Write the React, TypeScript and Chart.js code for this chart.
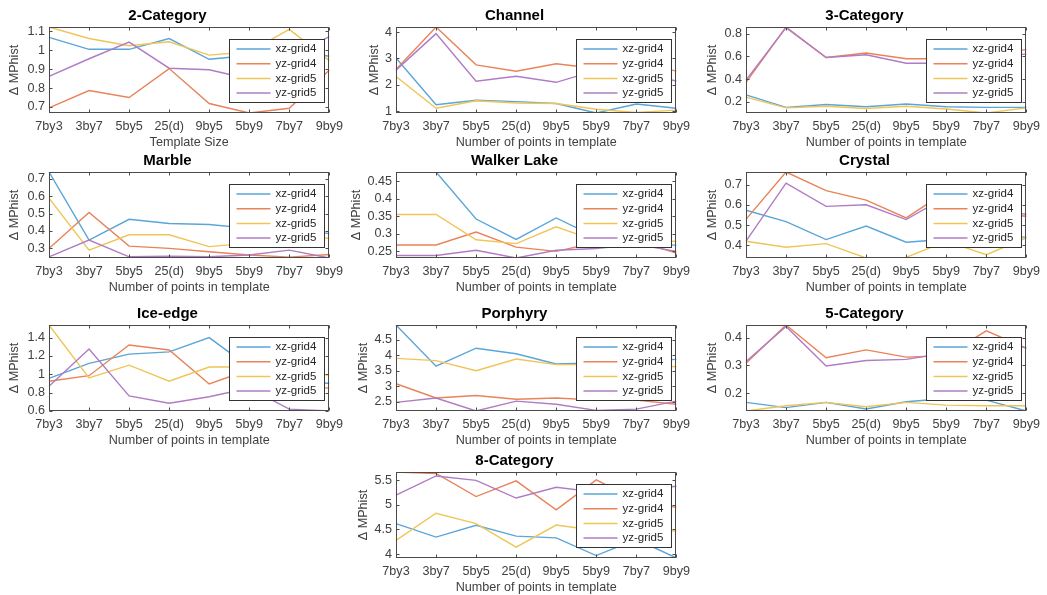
import React, { useEffect, useRef } from "react";
import { Chart, registerables } from "chart.js";

Chart.register(...registerables);

const FONT = "'Liberation Sans', Arial, Helvetica, sans-serif";
const AXIS_COLOR = "#4a4a4a";
const TEXT_COLOR = "#404040";
const AXIS_FONT_SIZE = 12.6;

// Template sizes along every x axis
const templates = ["7by3", "3by7", "5by5", "25(d)", "9by5", "5by9", "7by7", "9by9"];
const seriesNames = ["xz-grid4", "yz-grid4", "xz-grid5", "yz-grid5"];
const seriesColors = ["#5AA5DA", "#E8835A", "#F0C558", "#B07CC4"];

// 2-Category
const twoCatXz4 = [1.068, 1.005, 1.005, 1.062, 0.952, 0.972, 1.0, 0.968];
const twoCatYz4 = [0.695, 0.787, 0.75, 0.903, 0.718, 0.668, 0.693, 0.895];
const twoCatXz5 = [1.123, 1.062, 1.024, 1.045, 0.974, 0.992, 1.11, 0.945];
const twoCatYz5 = [0.862, 0.955, 1.043, 0.905, 0.897, 0.848, 0.965, 1.072];
const twoCatTicks = [0.7, 0.8, 0.9, 1, 1.1];

// Channel
const channelXz4 = [3.02, 1.25, 1.42, 1.37, 1.3, 0.94, 1.28, 1.12];
const channelYz4 = [2.58, 4.19, 2.76, 2.52, 2.8, 2.62, 2.9, 2.52];
const channelXz5 = [2.32, 1.12, 1.4, 1.32, 1.3, 1.08, 0.96, 1.05];
const channelYz5 = [2.56, 3.94, 2.14, 2.33, 2.1, 2.55, 2.48, 2.15];
const channelTicks = [1, 2, 3, 4];

// 3-Category
const threeCatXz4 = [0.26, 0.15, 0.175, 0.155, 0.18, 0.155, 0.15, 0.15];
const threeCatYz4 = [0.37, 0.86, 0.59, 0.63, 0.58, 0.58, 0.62, 0.66];
const threeCatXz5 = [0.24, 0.145, 0.16, 0.14, 0.16, 0.135, 0.1, 0.145];
const threeCatYz5 = [0.39, 0.855, 0.59, 0.615, 0.54, 0.54, 0.6, 0.62];
const threeCatTicks = [0.2, 0.4, 0.6, 0.8];

// Marble
const marbleXz4 = [0.738, 0.348, 0.467, 0.443, 0.437, 0.415, 0.4, 0.386];
const marbleYz4 = [0.3, 0.506, 0.313, 0.3, 0.281, 0.262, 0.25, 0.265];
const marbleXz5 = [0.588, 0.29, 0.378, 0.378, 0.31, 0.33, 0.36, 0.358];
const marbleYz5 = [0.252, 0.348, 0.252, 0.255, 0.252, 0.262, 0.29, 0.245];
const marbleTicks = [0.3, 0.4, 0.5, 0.6, 0.7];

// Walker Lake
const walkerXz4 = [0.476, 0.476, 0.342, 0.284, 0.345, 0.29, 0.28, 0.267];
const walkerYz4 = [0.268, 0.268, 0.305, 0.262, 0.25, 0.275, 0.28, 0.245];
const walkerXz5 = [0.355, 0.355, 0.283, 0.272, 0.32, 0.28, 0.285, 0.278];
const walkerYz5 = [0.238, 0.238, 0.253, 0.231, 0.253, 0.258, 0.27, 0.25];
const walkerTicks = [0.25, 0.3, 0.35, 0.4, 0.45];

// Crystal
const crystalXz4 = [0.573, 0.517, 0.428, 0.495, 0.415, 0.43, 0.445, 0.44];
const crystalYz4 = [0.528, 0.762, 0.67, 0.623, 0.535, 0.665, 0.58, 0.553];
const crystalXz5 = [0.42, 0.39, 0.408, 0.337, 0.34, 0.42, 0.353, 0.437];
const crystalYz5 = [0.42, 0.707, 0.592, 0.6, 0.527, 0.64, 0.56, 0.543];
const crystalTicks = [0.4, 0.5, 0.6, 0.7];

// Ice-edge
const iceXz4 = [0.956, 1.12, 1.22, 1.245, 1.4, 1.08, 0.95, 0.9];
const iceYz4 = [0.925, 0.985, 1.32, 1.265, 0.895, 1.05, 0.88, 0.85];
const iceXz5 = [1.538, 0.962, 1.1, 0.925, 1.08, 1.08, 1.05, 0.99];
const iceYz5 = [0.87, 1.276, 0.765, 0.685, 0.755, 0.85, 0.62, 0.6];
const iceTicks = [0.6, 0.8, 1, 1.2, 1.4];

// Porphyry
const porphyryXz4 = [4.98, 3.65, 4.23, 4.05, 3.72, 3.75, 3.8, 3.87];
const porphyryYz4 = [3.08, 2.62, 2.7, 2.58, 2.62, 2.55, 2.55, 2.42];
const porphyryXz5 = [3.9, 3.83, 3.5, 3.88, 3.7, 3.7, 3.7, 3.63];
const porphyryYz5 = [2.48, 2.62, 2.2, 2.52, 2.42, 2.22, 2.26, 2.52];
const porphyryTicks = [2.5, 3, 3.5, 4, 4.5];

// 5-Category
const fiveCatXz4 = [0.168, 0.149, 0.168, 0.144, 0.17, 0.182, 0.176, 0.137];
const fiveCatYz4 = [0.308, 0.445, 0.328, 0.356, 0.33, 0.335, 0.424, 0.362];
const fiveCatXz5 = [0.137, 0.156, 0.168, 0.152, 0.168, 0.158, 0.156, 0.156];
const fiveCatYz5 = [0.314, 0.44, 0.298, 0.318, 0.322, 0.345, 0.4, 0.362];
const fiveCatTicks = [0.2, 0.3, 0.4];

// 8-Category
const eightCatXz4 = [4.62, 4.345, 4.585, 4.365, 4.33, 3.97, 4.3, 3.92];
const eightCatYz4 = [5.67, 5.64, 5.17, 5.49, 4.9, 5.51, 5.1, 4.95];
const eightCatXz5 = [4.28, 4.83, 4.62, 4.14, 4.59, 4.48, 4.5, 4.47];
const eightCatYz5 = [5.2, 5.59, 5.5, 5.14, 5.36, 5.26, 5.3, 5.38];
const eightCatTicks = [4, 4.5, 5, 5.5];

const POINTS_TITLE = "Number of points in template";

type PanelSpec = {
  title: string;
  xTitle: string;
  series: number[][];
  ticks: number[];
  col: number;
  row: number;
  yTitleX: number; // centre of the rotated y-axis title, measured from the canvas' left edge
};

const panels: PanelSpec[] = [
  { title: "2-Category", xTitle: "Template Size", series: [twoCatXz4, twoCatYz4, twoCatXz5, twoCatYz5], ticks: twoCatTicks, col: 0, row: 0, yTitleX: 14 },
  { title: "Channel", xTitle: POINTS_TITLE, series: [channelXz4, channelYz4, channelXz5, channelYz5], ticks: channelTicks, col: 1, row: 0, yTitleX: 27 },
  { title: "3-Category", xTitle: POINTS_TITLE, series: [threeCatXz4, threeCatYz4, threeCatXz5, threeCatYz5], ticks: threeCatTicks, col: 2, row: 0, yTitleX: 15 },
  { title: "Marble", xTitle: POINTS_TITLE, series: [marbleXz4, marbleYz4, marbleXz5, marbleYz5], ticks: marbleTicks, col: 0, row: 1, yTitleX: 14 },
  { title: "Walker Lake", xTitle: POINTS_TITLE, series: [walkerXz4, walkerYz4, walkerXz5, walkerYz5], ticks: walkerTicks, col: 1, row: 1, yTitleX: 9 },
  { title: "Crystal", xTitle: POINTS_TITLE, series: [crystalXz4, crystalYz4, crystalXz5, crystalYz5], ticks: crystalTicks, col: 2, row: 1, yTitleX: 15 },
  { title: "Ice-edge", xTitle: POINTS_TITLE, series: [iceXz4, iceYz4, iceXz5, iceYz5], ticks: iceTicks, col: 0, row: 2, yTitleX: 14 },
  { title: "Porphyry", xTitle: POINTS_TITLE, series: [porphyryXz4, porphyryYz4, porphyryXz5, porphyryYz5], ticks: porphyryTicks, col: 1, row: 2, yTitleX: 16 },
  { title: "5-Category", xTitle: POINTS_TITLE, series: [fiveCatXz4, fiveCatYz4, fiveCatXz5, fiveCatYz5], ticks: fiveCatTicks, col: 2, row: 2, yTitleX: 15 },
  { title: "8-Category", xTitle: POINTS_TITLE, series: [eightCatXz4, eightCatYz4, eightCatXz5, eightCatYz5], ticks: eightCatTicks, col: 1, row: 3, yTitleX: 16 },
];

// Grid geometry of the plot boxes
const PLOT_LEFT = [49, 396, 746];
const PLOT_TOP = [27, 172, 325, 472];
const PLOT_W = 286;
const PLOT_H = 86;
const Y_AXIS_W = 49;
const X_AXIS_H = 37;
const TITLE_H = 22;
const RIGHT_PAD = 14;

// Axes box with inward ticks, plus a boxed legend in the upper right corner
const boxAndLegend = {
  id: "boxAndLegend",
  afterDatasetsDraw(chart: any) {
    const { ctx, chartArea: a, scales } = chart;
    const L = Math.round(a.left) + 0.5;
    const R = Math.round(a.right) - 0.5;
    const T = Math.round(a.top) + 0.5;
    const B = Math.round(a.bottom) - 0.5;
    ctx.save();
    ctx.strokeStyle = AXIS_COLOR;
    ctx.lineWidth = 1;
    ctx.strokeRect(L, T, R - L, B - T);
    ctx.beginPath();
    scales.x.ticks.forEach((_: any, i: number) => {
      const px = Math.round(scales.x.getPixelForTick(i)) + 0.5;
      ctx.moveTo(px, B);
      ctx.lineTo(px, B - 3);
      ctx.moveTo(px, T);
      ctx.lineTo(px, T + 3);
    });
    scales.y.ticks.forEach((t: any) => {
      const py = Math.round(scales.y.getPixelForValue(t.value)) + 0.5;
      ctx.moveTo(L, py);
      ctx.lineTo(L + 3, py);
      ctx.moveTo(R, py);
      ctx.lineTo(R - 3, py);
    });
    ctx.stroke();
    ctx.restore();
  },
  afterDraw(chart: any) {
    const { ctx, chartArea: a } = chart;
    const w = 95;
    const h = 63;
    const x0 = Math.round(a.right - 5 - w) + 0.5;
    const y0 = Math.round(a.top + 12) + 0.5;
    ctx.save();
    ctx.fillStyle = "#ffffff";
    ctx.fillRect(x0, y0, w, h);
    ctx.strokeStyle = "#333333";
    ctx.lineWidth = 1;
    ctx.strokeRect(x0, y0, w, h);
    ctx.font = `11.5px ${FONT}`;
    ctx.textBaseline = "middle";
    ctx.textAlign = "left";
    chart.data.datasets.forEach((ds: any, i: number) => {
      const y = y0 + 9.5 + i * 14.7;
      ctx.strokeStyle = ds.borderColor;
      ctx.lineWidth = 1.5;
      ctx.beginPath();
      ctx.moveTo(x0 + 7, y);
      ctx.lineTo(x0 + 41, y);
      ctx.stroke();
      ctx.fillStyle = "#262626";
      ctx.fillText(ds.label, x0 + 46, y);
    });
    ctx.restore();
  },
};

function Panel({ spec }: { spec: PanelSpec }) {
  const ref = useRef<HTMLCanvasElement | null>(null);
  const width = Y_AXIS_W + PLOT_W + RIGHT_PAD;
  const height = TITLE_H + PLOT_H + X_AXIS_H;
  const left = PLOT_LEFT[spec.col] - Y_AXIS_W;
  const top = PLOT_TOP[spec.row] - TITLE_H;

  useEffect(() => {
    if (!ref.current) return;
    const all = spec.series.flat();
    const yMin = Math.min(...all);
    const yMax = Math.max(...all);
    const chart = new Chart(ref.current, {
      type: "line",
      data: {
        labels: templates,
        datasets: spec.series.map((values, i) => ({
          label: seriesNames[i],
          data: values,
          borderColor: seriesColors[i],
          backgroundColor: seriesColors[i],
          borderWidth: 1.4,
          pointRadius: 0,
          tension: 0,
          fill: false,
          order: seriesNames.length - i,
        })),
      },
      options: {
        animation: false,
        responsive: false,
        maintainAspectRatio: false,
        layout: { padding: { left: 0, right: RIGHT_PAD, top: 0, bottom: 0 } },
        plugins: {
          legend: { display: false },
          tooltip: { enabled: false },
          title: {
            display: true,
            text: spec.title,
            color: "#000000",
            font: { family: FONT, size: 15, weight: "bold", lineHeight: 1.2 },
            padding: { top: 2, bottom: 2 },
          },
        },
        scales: {
          x: {
            type: "category",
            offset: false,
            grid: { display: false, drawTicks: false },
            border: { display: false },
            ticks: {
              color: TEXT_COLOR,
              font: { family: FONT, size: AXIS_FONT_SIZE },
              padding: 6,
              maxRotation: 0,
              autoSkip: false,
            },
            title: {
              display: true,
              text: spec.xTitle,
              color: TEXT_COLOR,
              font: { family: FONT, size: AXIS_FONT_SIZE, lineHeight: 1.2 },
              padding: { top: 0, bottom: 0 },
            },
            afterFit: (scale: any) => {
              scale.height = X_AXIS_H;
            },
          },
          y: {
            type: "linear",
            min: yMin,
            max: yMax,
            grid: { display: false, drawTicks: false },
            border: { display: false },
            ticks: {
              color: TEXT_COLOR,
              font: { family: FONT, size: AXIS_FONT_SIZE },
              padding: 4,
              callback: (v: any) => String(Number(Number(v).toFixed(2))),
            },
            afterBuildTicks: (scale: any) => {
              scale.ticks = spec.ticks.map((v) => ({ value: v }));
            },
            title: {
              display: true,
              text: "Δ MPhist",
              color: TEXT_COLOR,
              font: { family: FONT, size: AXIS_FONT_SIZE, lineHeight: 1.2 },
              padding: { top: Math.max(0, spec.yTitleX - 7.5), bottom: 0 },
            },
            afterFit: (scale: any) => {
              scale.width = Y_AXIS_W;
            },
          },
        },
      } as any,
      plugins: [boxAndLegend],
    });
    return () => chart.destroy();
  }, [spec]);

  return (
    <canvas
      ref={ref}
      width={width}
      height={height}
      style={{ position: "absolute", left, top, width, height }}
    />
  );
}

export default function App() {
  return (
    <div
      style={{
        position: "absolute",
        left: 0,
        top: 0,
        width: 1047,
        height: 595,
        overflow: "hidden",
        background: "#ffffff",
      }}
    >
      {panels.map((p) => (
        <Panel key={p.title} spec={p} />
      ))}
    </div>
  );
}
